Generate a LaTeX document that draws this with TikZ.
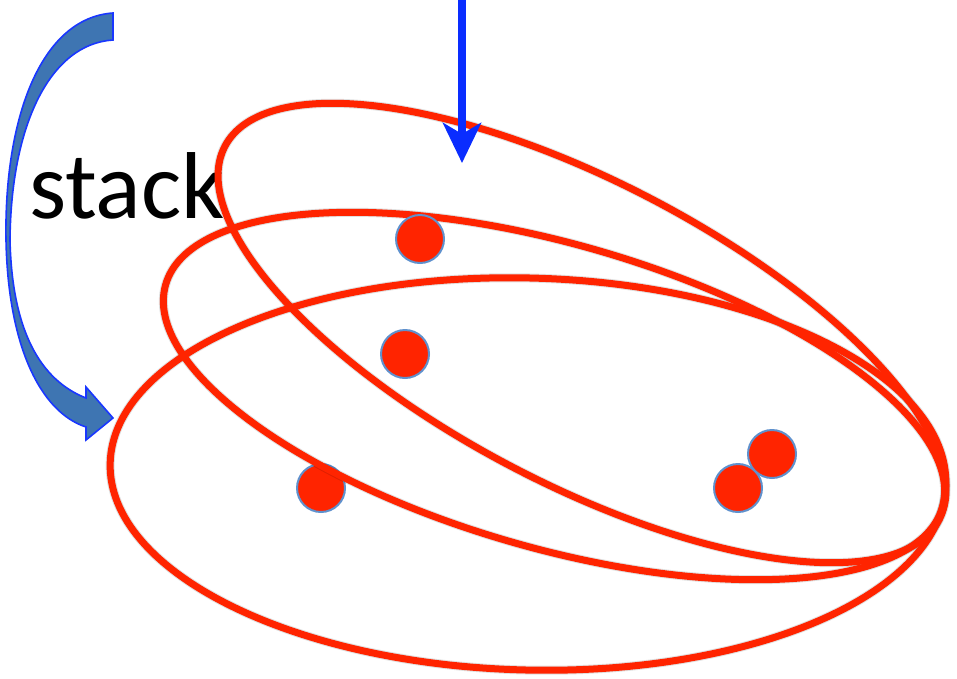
\documentclass[tikz,border=0pt]{standalone}
\usepackage{fontspec}
\setmainfont{Carlito}
\usetikzlibrary{arrows.meta}
\definecolor{ringred}{RGB}{255,36,0}
\definecolor{dotline}{RGB}{95,145,205}
\definecolor{arrowblue}{RGB}{10,45,255}
\definecolor{bendfill}{RGB}{62,117,178}
\definecolor{bendline}{RGB}{25,55,255}
\tikzset{
  ring/.style={draw=ringred, line width=7pt},
  ringshadow/.style={draw=black, opacity=0.12, line width=9pt},
  reddot/.style={circle, fill=ringred, draw=dotline, line width=2pt, minimum size=48pt, inner sep=0pt},
  downarrow/.style={draw=arrowblue, line width=8pt, -{Stealth[length=40pt,width=38pt,inset=11pt]}},
  bendarrow/.style={fill=bendfill, draw=bendline, line width=1.6pt, line join=miter},
  stacklabel/.style={font=\fontsize{95}{95}\selectfont, inner sep=0pt, anchor=base west}
}
\begin{document}
\begin{tikzpicture}[x=1pt,y=-1pt]
\useasboundingbox (0,0) rectangle (957,678);

% curved block arrow
\path[bendarrow] (113,13) .. controls (40,18) and (4,120) .. (6,240)
  .. controls (8,345) and (40,412) .. (86,427)
  -- (86,440) -- (113,418) -- (86,387) -- (86,398)
  .. controls (40,380) and (12,330) .. (10,240)
  .. controls (11,125) and (50,44) .. (113,40) -- cycle;

\node[stacklabel] (stack) at (29,218) {stack};

% lower-left dot (behind the rings)
\node[reddot] (d3) at (321,488) {};

% ring centres
\coordinate (cC) at (528,474);
\coordinate (cB) at (554,396);
\coordinate (cA) at (582,333);

% shadows
\begin{scope}[shift={(2,3)}]
\draw[ringshadow] (cC) ellipse [x radius=418, y radius=196, rotate=-1.5];
\draw[ringshadow] (cB) ellipse [x radius=404, y radius=152, rotate=-16];
\draw[ringshadow] (cA) ellipse [x radius=403, y radius=151, rotate=-27.6];
\end{scope}

% rings
\draw[ring] (cC) ellipse [x radius=418, y radius=196, rotate=-1.5];
\draw[ring] (cB) ellipse [x radius=404, y radius=152, rotate=-16];
\draw[ring] (cA) ellipse [x radius=403, y radius=151, rotate=-27.6];

% dots
\node[reddot] (d1) at (420,239) {};
\node[reddot] (d2) at (405,354) {};
\node[reddot] (d4) at (738,488) {};
\node[reddot] (d5) at (772,454) {};

% vertical arrow
\coordinate (arrtop) at (462,0);
\coordinate (arrtip) at (462,163);
\draw[downarrow] (arrtop) -- (arrtip);
\end{tikzpicture}
\end{document}
